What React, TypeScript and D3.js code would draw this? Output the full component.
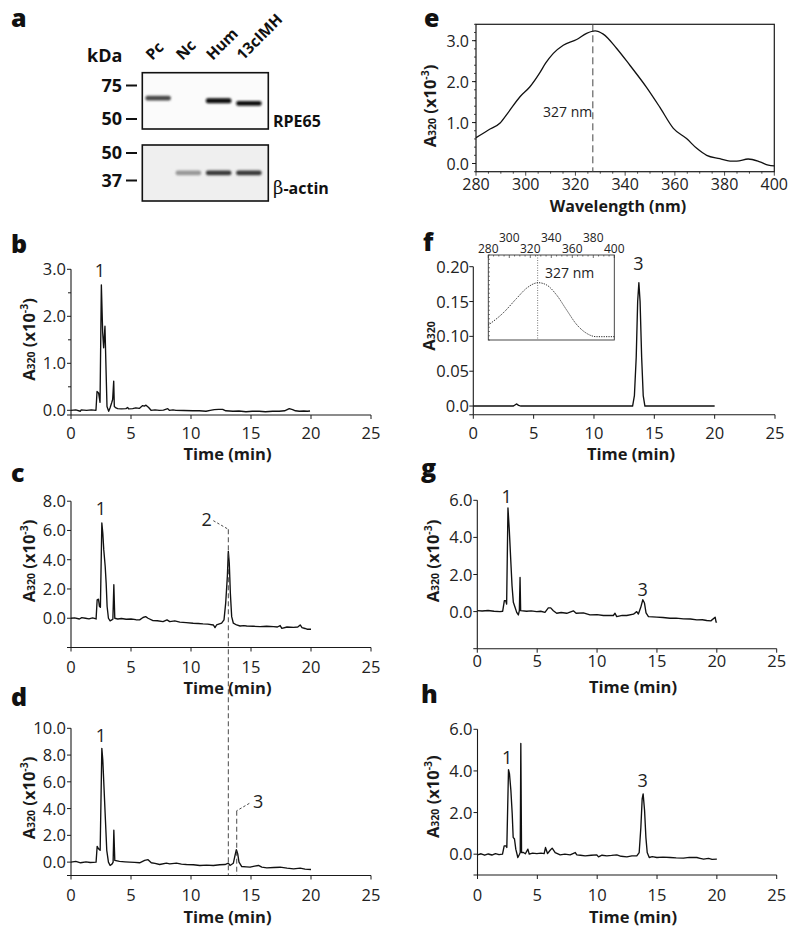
import React from "react";
import * as d3 from "d3";

const FONT = "'Open Sans', 'Noto Sans', sans-serif";

// ---------- Panel a (western blot) ----------
const lanes = ["Pc", "Nc", "Hum", "13cIMH"];
const rpe65Kda = [64, 0, 62, 60];
const rpe65Intensity = [0.78, 0, 0.97, 0.95];
const actinKda = [40, 40, 40, 40];
const actinIntensity = [0.12, 0.5, 0.82, 0.82];
const upperMarkers = [75, 50];
const lowerMarkers = [50, 37];

// ---------- Panel e (spectrum) ----------
const spectrumE: [number, number][] = [
  [280, 0.63], [285, 0.82], [289.7, 0.99], [293, 1.25], [297.7, 1.63], [301.7, 1.875],
  [305.7, 2.22], [308, 2.45], [311.1, 2.69], [315.1, 2.89], [320.5, 3.03], [324.5, 3.18],
  [327.9, 3.24], [331.2, 3.16], [336.6, 2.81], [341.9, 2.4], [348.6, 1.86], [354, 1.37],
  [359.4, 0.86], [364.7, 0.61], [368.8, 0.37], [372.8, 0.2], [378.1, 0.12], [382.2, 0.06],
  [384.9, 0.06], [389.5, 0.11], [394.2, 0.04], [397.6, -0.04], [400, -0.06],
];
const eXTicks = [280, 300, 320, 340, 360, 380, 400];
const eYTicks = [0, 1, 2, 3];
const peakWavelength = 327;

// ---------- Panel f inset ----------
const insetWavelength = [280, 294.3, 307, 316.5, 327.6, 335.6, 345, 354.6, 364, 373.7, 383, 400];
const insetAbs = [0.176, 0.32, 0.49, 0.61, 0.674, 0.647, 0.53, 0.353, 0.184, 0.078, 0.039, 0.039];
const insetTicksLow = [280, 320, 360, 400];
const insetTicksHigh = [300, 340, 380];

// ---------- Chromatograms ----------
const timeTicks = [0, 5, 10, 15, 20, 25];

const traceB: [number, number][] = [
  [0, 0], [0.4, 0.01], [0.78, -0.02], [0.85, 0.01], [1.3, 0], [1.7, 0.01], [2.08, 0], [2.17, 0.4],
  [2.3, 0.37], [2.42, 0.17], [2.53, 2.67], [2.64, 1.65], [2.72, 1.33], [2.83, 1.79], [2.92, 0.87],
  [3.0, 0.08], [3.14, -0.02], [3.25, 0.05], [3.39, 0.16], [3.47, 0.23], [3.56, 0.62], [3.61, 0.08],
  [3.75, 0.05], [3.89, 0.035], [4.2, 0.03], [4.58, 0.035], [4.72, 0.06], [4.8, 0.03], [5.14, 0.035],
  [5.4, 0.05], [5.69, 0.04], [5.97, 0.1], [6.1, 0.09], [6.25, 0.11], [6.47, 0.06], [6.67, 0],
  [7.0, 0.01], [7.36, 0], [7.7, 0.005], [8.06, 0.035], [8.19, 0], [8.5, 0.01], [8.75, 0],
  [9.4, -0.005], [10.14, -0.01], [10.7, -0.01], [11.25, -0.02], [11.6, 0], [11.94, 0.015],
  [12.3, 0.02], [12.64, 0.02], [12.9, -0.01], [13.5, -0.02], [14.0, -0.015], [14.58, -0.03],
  [15.1, -0.02], [15.69, -0.02], [16.2, -0.03], [16.8, -0.02], [17.36, -0.02], [17.8, -0.01],
  [18.19, 0.035], [18.47, 0.015], [18.7, -0.01], [19.03, -0.02], [19.4, -0.015], [19.7, -0.02],
  [19.92, -0.015],
];

const traceC: [number, number][] = [
  [0, 0], [0.3, 0.03], [0.7, -0.05], [0.9, 0.04], [1.2, 0], [1.5, -0.04], [1.8, 0.02], [2.09, -0.05],
  [2.18, 1.26], [2.29, 1.3], [2.37, 0.8], [2.45, 0.75], [2.57, 6.51], [2.65, 5.83], [2.73, 4.69],
  [2.85, 3.54], [2.93, 2.4], [3.01, 0.8], [3.12, 0], [3.26, -0.18], [3.4, -0.11], [3.49, -0.07],
  [3.57, 2.29], [3.65, 0], [3.9, -0.05], [4.2, -0.02], [4.6, -0.07], [5.0, -0.05], [5.4, -0.1],
  [5.72, -0.11], [6.0, 0.05], [6.22, 0.11], [6.42, 0], [6.83, -0.16], [7.2, -0.17], [7.67, -0.23],
  [8.0, -0.11], [8.23, -0.23], [8.65, -0.18], [9.07, -0.27], [9.6, -0.3], [10.18, -0.34],
  [10.6, -0.36], [11.0, -0.39], [11.4, -0.4], [11.86, -0.46], [12.0, -0.64], [12.13, -0.46],
  [12.55, -0.34], [12.75, -0.11], [12.89, 1.03], [13.03, 2.86], [13.11, 4.57], [13.19, 3.77],
  [13.28, 1.71], [13.39, 0.11], [13.53, -0.34], [13.8, -0.46], [14.09, -0.53], [14.4, -0.5],
  [14.64, -0.53], [15.2, -0.55], [15.76, -0.57], [16.3, -0.55], [16.88, -0.57], [17.2, -0.6],
  [17.43, -0.5], [17.57, -0.69], [18.0, -0.6], [18.55, -0.62], [18.9, -0.6], [19.1, -0.46],
  [19.25, -0.64], [19.5, -0.7], [19.67, -0.75], [20, -0.75],
];

const traceD: [number, number][] = [
  [0, 0], [0.4, 0.05], [0.8, -0.05], [1.25, 0.02], [1.6, -0.03], [2.09, 0], [2.18, 1.18], [2.29, 1.0],
  [2.43, 0.88], [2.57, 8.5], [2.65, 7.63], [2.76, 5.38], [2.87, 3.13], [2.98, 0.88], [3.12, 0],
  [3.26, -0.25], [3.43, -0.13], [3.51, 0], [3.57, 2.38], [3.65, 0.13], [4.04, 0.05], [4.5, 0.02],
  [4.88, 0], [5.3, -0.02], [5.72, -0.05], [6.14, 0.13], [6.42, 0.18], [6.69, -0.05], [7.0, -0.1],
  [7.39, -0.18], [7.95, -0.08], [8.23, -0.13], [8.79, -0.08], [9.2, -0.15], [9.62, -0.18],
  [10.2, -0.2], [10.74, -0.25], [11.3, -0.22], [11.86, -0.25], [12.4, -0.2], [12.83, -0.18],
  [13.11, -0.08], [13.25, -0.25], [13.53, -0.08], [13.67, 0.5], [13.78, 0.93], [13.89, 0.63],
  [14.0, 0], [14.23, -0.33], [14.6, -0.35], [14.92, -0.38], [15.3, -0.3], [15.62, -0.25],
  [15.9, -0.38], [16.32, -0.43], [16.9, -0.4], [17.43, -0.38], [18.0, -0.45], [18.55, -0.5],
  [19.1, -0.45], [19.5, -0.52], [20, -0.55],
];

const traceF: [number, number][] = [
  [0, 0], [1, 0], [2, 0], [3.3, 0], [3.45, 0.0015], [3.6, 0.003], [3.75, 0.001], [3.95, 0],
  [6, 0], [8, 0], [10, 0], [12, 0], [13.2, 0], [13.35, 0.015], [13.5, 0.07], [13.62, 0.15],
  [13.72, 0.177], [13.82, 0.15], [13.95, 0.07], [14.08, 0.015], [14.22, 0], [16, 0], [18, 0], [20, 0],
];

const traceG: [number, number][] = [
  [0, 0.05], [0.4, 0.03], [0.9, 0.06], [1.4, 0.02], [1.9, 0], [2.12, 0.02], [2.26, 0.59], [2.37, 0.59],
  [2.45, 0.41], [2.56, 5.59], [2.67, 4.43], [2.79, 2.82], [2.9, 1.39], [3.01, 0.5], [3.15, 0.23],
  [3.29, -0.04], [3.43, -0.18], [3.51, 0.05], [3.57, 1.84], [3.62, 0.05], [4.12, 0.02], [4.5, 0.04],
  [4.96, 0], [5.3, 0.02], [5.65, -0.04], [5.93, 0.2], [6.13, 0.2], [6.35, 0.05], [6.63, -0.09],
  [7.0, -0.05], [7.47, -0.09], [8.02, 0.04], [8.25, -0.09], [8.86, -0.07], [9.41, -0.18],
  [10.0, -0.16], [10.53, -0.21], [11.0, -0.2], [11.36, -0.21], [11.5, -0.09], [11.64, -0.27],
  [12.1, -0.2], [12.48, -0.21], [13.04, -0.14], [13.31, 0], [13.45, -0.13], [13.65, 0.23],
  [13.82, 0.64], [13.96, 0.46], [14.09, -0.07], [14.29, -0.27], [14.99, -0.3], [15.5, -0.32],
  [16.1, -0.36], [16.6, -0.35], [17.21, -0.39], [17.8, -0.4], [18.33, -0.45], [18.8, -0.44],
  [19.16, -0.48], [19.5, -0.5], [19.86, -0.3], [19.94, -0.57], [20, -0.54],
];

const traceH: [number, number][] = [
  [0, -0.03], [0.3, 0.02], [0.6, -0.05], [0.9, 0.01], [1.2, -0.04], [1.5, 0.03], [1.8, -0.02],
  [2.09, 0], [2.23, 0.4], [2.37, 0.4], [2.45, 0.32], [2.59, 4.06], [2.67, 3.87], [2.79, 3.06],
  [2.9, 1.94], [2.98, 0.81], [3.09, 0.73], [3.2, 0.24], [3.37, -0.16], [3.51, 0], [3.57, 0.08],
  [3.62, 5.32], [3.68, 0.08], [3.84, 0.08], [4.0, 0.02], [4.21, 0.24], [4.32, 0], [4.6, 0.05],
  [4.96, 0.03], [5.3, 0.05], [5.57, 0.03], [5.68, 0.32], [5.85, 0.03], [6.07, 0.19], [6.24, 0.29],
  [6.49, 0.08], [6.91, -0.03], [7.3, 0], [7.74, -0.03], [8.16, 0.08], [8.3, -0.03], [8.6, -0.05],
  [9.0, -0.08], [9.5, -0.05], [9.97, -0.03], [10.11, -0.13], [10.4, -0.05], [10.81, -0.08],
  [11.2, -0.06], [11.64, -0.03], [12.0, -0.1], [12.48, -0.13], [12.9, -0.08], [13.31, -0.08],
  [13.51, 0.08], [13.65, 1.29], [13.76, 2.66], [13.84, 2.9], [13.96, 2.1], [14.07, 0.81],
  [14.18, 0.08], [14.35, -0.16], [14.6, -0.12], [14.99, -0.16], [15.5, -0.14], [16.1, -0.16],
  [16.6, -0.18], [17.21, -0.19], [17.7, -0.15], [18.33, -0.16], [18.6, -0.2], [18.89, -0.24],
  [19.3, -0.2], [19.6, -0.25], [20, -0.24],
];

type PeakLabel = { text: string; t: number; v: number };

type ChromCfg = {
  id: string;
  letter: [number, number];
  x: [number, number];
  yDomain: [number, number];
  yRange: [number, number];
  yTicks: number[];
  yMinor: number[];
  fmt: (v: number) => string;
  tickEnd: number;
  xLabelBase: number;
  titleBase: number;
  titleX: number;
  yLab: [number, number];
  fullLabel: boolean;
  data: [number, number][];
  peaks: PeakLabel[];
};

const f1 = d3.format(".1f");
const fF = (v: number) => (v === 0 ? "0.0" : d3.format(".2f")(v));

const panels: ChromCfg[] = [
  {
    id: "b", letter: [11, 253], x: [71, 371], yDomain: [-0.1, 3], yRange: [415, 269.3],
    yTicks: [0, 1, 2, 3], yMinor: [0.5, 1.5, 2.5], fmt: f1, tickEnd: 66,
    xLabelBase: 438.5, titleBase: 460, titleX: 227.5, yLab: [35, 339.5], fullLabel: true,
    data: traceB, peaks: [{ text: "1", t: 2.4, v: 2.84 }],
  },
  {
    id: "c", letter: [11, 481.5], x: [71, 371], yDomain: [-2, 8], yRange: [647.5, 501.2],
    yTicks: [0, 2, 4, 6, 8], yMinor: [], fmt: f1, tickEnd: 66,
    xLabelBase: 672.5, titleBase: 694, titleX: 227.5, yLab: [35, 561], fullLabel: true,
    data: traceC, peaks: [{ text: "1", t: 2.5, v: 7.06 }, { text: "2", t: 11.3, v: 6.31 }],
  },
  {
    id: "d", letter: [11, 706], x: [71, 371], yDomain: [-1, 10], yRange: [875.5, 728.3],
    yTicks: [0, 2, 4, 6, 8, 10], yMinor: [], fmt: f1, tickEnd: 66,
    xLabelBase: 901, titleBase: 922.7, titleX: 227.5, yLab: [35, 798], fullLabel: true,
    data: traceD, peaks: [{ text: "1", t: 2.5, v: 9.0 }, { text: "3", t: 15.6, v: 4.02 }],
  },
  {
    id: "f", letter: [423, 251], x: [473.3, 775], yDomain: [-0.0125, 0.2], yRange: [414.75, 266.7],
    yTicks: [0, 0.05, 0.1, 0.15, 0.2], yMinor: [], fmt: fF, tickEnd: 469,
    xLabelBase: 438.5, titleBase: 460, titleX: 631, yLab: [435, 336], fullLabel: false,
    data: traceF, peaks: [{ text: "3", t: 13.68, v: 0.195 }],
  },
  {
    id: "g", letter: [421, 477], x: [477.3, 776.7], yDomain: [-2, 6], yRange: [648.7, 500.3],
    yTicks: [0, 2, 4, 6], yMinor: [], fmt: f1, tickEnd: 472.5,
    xLabelBase: 666.7, titleBase: 693.3, titleX: 633, yLab: [439, 561], fullLabel: true,
    data: traceG, peaks: [{ text: "1", t: 2.45, v: 5.87 }, { text: "3", t: 13.8, v: 0.84 }],
  },
  {
    id: "h", letter: [421, 703], x: [477.5, 776.7], yDomain: [-1, 6], yRange: [875, 729.3],
    yTicks: [0, 2, 4, 6], yMinor: [], fmt: f1, tickEnd: 472.5,
    xLabelBase: 900.7, titleBase: 922.7, titleX: 633, yLab: [439, 796.7], fullLabel: true,
    data: traceH, peaks: [{ text: "1", t: 2.48, v: 4.34 }, { text: "3", t: 13.8, v: 3.25 }],
  },
];

const AX = "#1a1a1a";
const TICK_FS = 16.5;

function YLabel({ x, y, full }: { x: number; y: number; full: boolean }) {
  return (
    <text transform={`translate(${x},${y}) rotate(-90)`} textAnchor="middle" fontWeight={700}
      fontSize={16.5} fill="#1a1a1a">
      <tspan>A</tspan>
      <tspan fontSize={10.5}>320</tspan>
      {full && (
        <>
          <tspan> (x10</tspan>
          <tspan fontSize={10.5} dy={-7}>-3</tspan>
          <tspan dy={7}>)</tspan>
        </>
      )}
    </text>
  );
}

function PanelLetter({ t, x, y }: { t: string; x: number; y: number }) {
  return (
    <text x={x} y={y} fontSize={25} fontWeight={800} fill="#111">{t}</text>
  );
}

function Chrom({ cfg }: { cfg: ChromCfg }) {
  const x = d3.scaleLinear().domain([0, 25]).range(cfg.x);
  const y = d3.scaleLinear().domain(cfg.yDomain).range(cfg.yRange);
  const line = d3.line<[number, number]>().x((d) => x(d[0])).y((d) => y(d[1]));
  const yb = cfg.yRange[0];
  const x0 = cfg.x[0];
  return (
    <g>
      <PanelLetter t={cfg.id} x={cfg.letter[0]} y={cfg.letter[1]} />
      <line x1={x0} x2={x0} y1={yb} y2={cfg.yRange[1]} stroke={AX} strokeWidth={1.1} />
      <line x1={x0} x2={cfg.x[1]} y1={yb} y2={yb} stroke={AX} strokeWidth={1.1} />
      {timeTicks.map((t) => (
        <g key={t}>
          <line x1={x(t)} x2={x(t)} y1={yb} y2={yb + 4} stroke={AX} strokeWidth={1} />
          <text x={x(t)} y={cfg.xLabelBase} textAnchor="middle" fontSize={TICK_FS} fill="#222">{t}</text>
        </g>
      ))}
      {[cfg.yDomain[0], ...cfg.yTicks].map((v, i) => (
        <g key={"y" + i}>
          <line x1={x0 - 4} x2={x0} y1={y(v)} y2={y(v)} stroke={AX} strokeWidth={1} />
          {i > 0 && (
            <text x={cfg.tickEnd} y={y(v) + 6} textAnchor="end" fontSize={TICK_FS} fill="#222">{cfg.fmt(v)}</text>
          )}
        </g>
      ))}
      {cfg.yMinor.map((v) => (
        <line key={"m" + v} x1={x0 - 3} x2={x0} y1={y(v)} y2={y(v)} stroke={AX} strokeWidth={1} />
      ))}
      <path d={line(cfg.data) || ""} fill="none" stroke="#111" strokeWidth={1.35} strokeLinejoin="round" />
      {cfg.peaks.map((p, i) => (
        <text key={"p" + i} x={x(p.t)} y={y(p.v)} textAnchor="middle" fontSize={18} fill="#222">{p.text}</text>
      ))}
      <text x={cfg.titleX} y={cfg.titleBase} textAnchor="middle" fontSize={16.5} fontWeight={700} fill="#1a1a1a">Time (min)</text>
      <YLabel x={cfg.yLab[0]} y={cfg.yLab[1]} full={cfg.fullLabel} />
    </g>
  );
}

function Leaders() {
  const c = panels[1];
  const d = panels[2];
  const xc = d3.scaleLinear().domain([0, 25]).range(c.x);
  const yc = d3.scaleLinear().domain(c.yDomain).range(c.yRange);
  const yd = d3.scaleLinear().domain(d.yDomain).range(d.yRange);
  const st = { stroke: "#333", strokeWidth: 0.9, strokeDasharray: "5,3", fill: "none" };
  return (
    <g>
      <line x1={xc(11.86)} y1={yc(6.67)} x2={xc(13.11)} y2={yc(6.08)} {...st} strokeDasharray="2.5,2" />
      <line x1={xc(13.11)} y1={yc(6.08)} x2={xc(13.11)} y2={yd(-1)} {...st} />
      <line x1={xc(14.86)} y1={yd(4.39)} x2={xc(13.81)} y2={yd(3.84)} {...st} strokeDasharray="2.5,2" />
      <line x1={xc(13.81)} y1={yd(3.84)} x2={xc(13.81)} y2={yd(-1)} {...st} />
    </g>
  );
}

function Blot() {
  const lane = d3.scaleBand<string>().domain(lanes).range([143, 264]);
  const upperY = d3.scaleLog().domain([75, 50]).range([85, 118.5]);
  const lowerY = d3.scaleLog().domain([50, 37]).range([152.5, 180]);
  const bw = lane.bandwidth() * 0.84;
  return (
    <g>
      <PanelLetter t="a" x={11} y={27} />
      <text x={87} y={62} fontSize={18} fontWeight={700} fill="#111">kDa</text>
      {lanes.map((l) => (
        <text key={l} transform={`translate(${(lane(l) || 0) + lane.bandwidth() / 2 - 6},61) rotate(-45)`}
          fontSize={15.5} fontWeight={700} fill="#111">{l}</text>
      ))}
      <rect x={142.3} y={72.7} width={126} height={56.3} fill="#fbfbfb" stroke="#111" strokeWidth={1.6} />
      <rect x={142.3} y={145} width={126} height={56} fill="#efefef" stroke="#111" strokeWidth={1.6} />
      {lanes.map((l, i) =>
        rpe65Intensity[i] > 0 ? (
          <rect key={"u" + l} x={(lane(l) || 0) + lane.bandwidth() / 2 - bw / 2} y={upperY(rpe65Kda[i]) - 2.4}
            width={bw} height={4.8} rx={2} fill={d3.interpolateGreys(rpe65Intensity[i])} filter="url(#blur)" />
        ) : null
      )}
      {lanes.map((l, i) => (
        <rect key={"l" + l} x={(lane(l) || 0) + lane.bandwidth() / 2 - bw / 2} y={lowerY(actinKda[i]) - 2.3}
          width={bw} height={4.6} rx={2} fill={d3.interpolateGreys(actinIntensity[i])} filter="url(#blur)" />
      ))}
      {upperMarkers.map((m) => (
        <g key={"um" + m}>
          <text x={122} y={upperY(m) + 6.5} textAnchor="end" fontSize={18} fontWeight={700} fill="#111">{m}</text>
          <line x1={126} x2={137} y1={upperY(m) + 0.5} y2={upperY(m) + 0.5} stroke="#111" strokeWidth={2} />
        </g>
      ))}
      {lowerMarkers.map((m) => (
        <g key={"lm" + m}>
          <text x={122} y={lowerY(m) + 6.5} textAnchor="end" fontSize={18} fontWeight={700} fill="#111">{m}</text>
          <line x1={126} x2={137} y1={lowerY(m) + 0.5} y2={lowerY(m) + 0.5} stroke="#111" strokeWidth={2} />
        </g>
      ))}
      <text x={273} y={126.5} fontSize={16} fontWeight={700} fill="#111">RPE65</text>
      <text x={273} y={194} fontSize={16} fontWeight={700} fill="#111">
        <tspan fontFamily="'DejaVu Serif', serif" fontWeight={400} fontSize={18}>β</tspan>-actin
      </text>
    </g>
  );
}

function Spectrum() {
  const x = d3.scaleLinear().domain([280, 400]).range([476, 774.3]);
  const y = d3.scaleLinear().domain([-0.2, 3.4]).range([171.7, 24.3]);
  const line = d3.line<[number, number]>().x((d) => x(d[0])).y((d) => y(d[1])).curve(d3.curveMonotoneX);
  const minorX = d3.range(280, 401, 5);
  const minorY = d3.range(-0.2, 3.41, 0.2);
  return (
    <g>
      <PanelLetter t="e" x={424} y={27} />
      <rect x={476} y={24.3} width={298.3} height={147.4} fill="none" stroke={AX} strokeWidth={1.2} />
      {minorX.map((t) => (
        <line key={"mx" + t} x1={x(t)} x2={x(t)} y1={171.7} y2={171.7 + (t % 20 === 0 ? 4 : 2)} stroke={AX} strokeWidth={0.8} />
      ))}
      {minorY.map((v, i) => (
        <line key={"my" + i} x1={476 - 2} x2={476} y1={y(v)} y2={y(v)} stroke={AX} strokeWidth={0.8} />
      ))}
      {eXTicks.map((t) => (
        <text key={t} x={x(t)} y={189.5} textAnchor="middle" fontSize={16} fill="#222">{t}</text>
      ))}
      {eYTicks.map((v) => (
        <g key={"ey" + v}>
          <line x1={472} x2={476} y1={y(v)} y2={y(v)} stroke={AX} strokeWidth={1} />
          <text x={469} y={y(v) + 6} textAnchor="end" fontSize={16} fill="#222">{f1(v)}</text>
        </g>
      ))}
      <line x1={x(peakWavelength)} x2={x(peakWavelength)} y1={24.3} y2={171.7} stroke="#444" strokeWidth={1}
        strokeDasharray="7,4" />
      <path d={line(spectrumE) || ""} fill="none" stroke="#111" strokeWidth={1.3} />
      <text x={543} y={117.3} fontSize={14} fill="#222">327 nm</text>
      <text x={618} y={211.5} textAnchor="middle" fontSize={16} fontWeight={700} fill="#1a1a1a">Wavelength (nm)</text>
      <YLabel x={436} y={106} full={true} />
    </g>
  );
}

function Inset() {
  const x = d3.scaleLinear().domain([280, 400]).range([488.3, 614.3]);
  const y = d3.scaleLinear().domain([0, 1]).range([340, 255]);
  const pts: [number, number][] = insetWavelength.map((w, i) => [w, insetAbs[i]]);
  const line = d3.line<[number, number]>().x((d) => x(d[0])).y((d) => y(d[1])).curve(d3.curveMonotoneX);
  const minor = d3.range(280, 401, 5);
  return (
    <g>
      <rect x={488.3} y={255} width={126} height={85} fill="#fff" stroke="#333" strokeWidth={0.9} />
      {minor.map((t) => (
        <line key={t} x1={x(t)} x2={x(t)} y1={255} y2={255 + (t % 20 === 0 ? 3 : 1.5)} stroke="#333" strokeWidth={0.7} />
      ))}
      {d3.range(0, 1.01, 0.05).map((v, i) => (
        <line key={"l" + i} x1={488.3} x2={490} y1={y(v)} y2={y(v)} stroke="#333" strokeWidth={0.6} />
      ))}
      {insetTicksLow.map((t) => (
        <text key={t} x={x(t)} y={253} textAnchor="middle" fontSize={12} fill="#222">{t}</text>
      ))}
      {insetTicksHigh.map((t) => (
        <text key={t} x={x(t)} y={241.7} textAnchor="middle" fontSize={12} fill="#222">{t}</text>
      ))}
      <line x1={x(peakWavelength)} x2={x(peakWavelength)} y1={255} y2={340} stroke="#555" strokeWidth={0.8}
        strokeDasharray="1,1.5" />
      <path d={line(pts) || ""} fill="none" stroke="#222" strokeWidth={1} strokeDasharray="1.2,1.2" />
      <text x={545} y={278.3} fontSize={14} fill="#222">327 nm</text>
    </g>
  );
}

export default function App() {
  return (
    <svg width={800} height={937} viewBox="0 0 800 937"
      style={{ position: "absolute", left: 0, top: 0, background: "#fff" }} fontFamily={FONT}>
      <defs>
        <filter id="blur" x="-20%" y="-100%" width="140%" height="300%">
          <feGaussianBlur stdDeviation="0.8" />
        </filter>
      </defs>
      <rect width={800} height={937} fill="#fff" />
      <Blot />
      <Spectrum />
      {panels.map((p) => (
        <Chrom key={p.id} cfg={p} />
      ))}
      <Inset />
      <Leaders />
    </svg>
  );
}
